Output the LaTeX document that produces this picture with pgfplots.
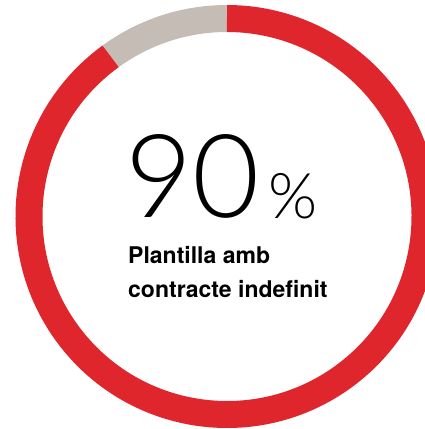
\documentclass[border=0pt]{standalone}
\usepackage{pgfplots}
\pgfplotsset{compat=1.18}
\usepackage{fontspec}
\setmainfont{TeX Gyre Heros}
\newfontfamily\thinfont{Lato Light}
\definecolor{ringred}{RGB}{224,38,45}
\definecolor{ringgray}{RGB}{197,189,181}

% share of the ring, in percent
\def\share{90}

\begin{document}
\begin{tikzpicture}
  \pgfmathsetmacro{\splitangle}{90+(100-\share)*3.6}
  \begin{axis}[
    x=1pt, y=1pt,
    xmin=-227, xmax=198,
    ymin=-212.5, ymax=216.5,
    hide axis,
    clip=true,
    ]
    % gray part, counterclockwise from the top
    \draw[ringgray, line width=27pt]
      (axis cs:0,0) ++(90:198pt) arc[start angle=90, end angle=\splitangle, radius=198pt];
    % red part
    \draw[ringred, line width=27pt]
      (axis cs:0,0) ++(\splitangle:198pt) arc[start angle=\splitangle, end angle=450, radius=198pt];

    \node[anchor=base west, inner sep=0pt, font=\thinfont\fontsize{116}{116}\selectfont]
      at (axis cs:-102,-1.5) {\share};
    \node[anchor=base west, inner sep=0pt, font=\thinfont\fontsize{63}{63}\selectfont]
      at (axis cs:41,-2.5) {\%};
    \node[anchor=base west, inner sep=0pt, font=\bfseries\fontsize{23}{23}\selectfont]
      at (axis cs:-99,-47.5) {Plantilla amb};
    \node[anchor=base west, inner sep=0pt, font=\bfseries\fontsize{23}{23}\selectfont]
      at (axis cs:-99,-81.5) {contracte indefinit};
  \end{axis}
  \pgfresetboundingbox
  \useasboundingbox (current axis.south west) rectangle (current axis.north east);
\end{tikzpicture}
\end{document}
